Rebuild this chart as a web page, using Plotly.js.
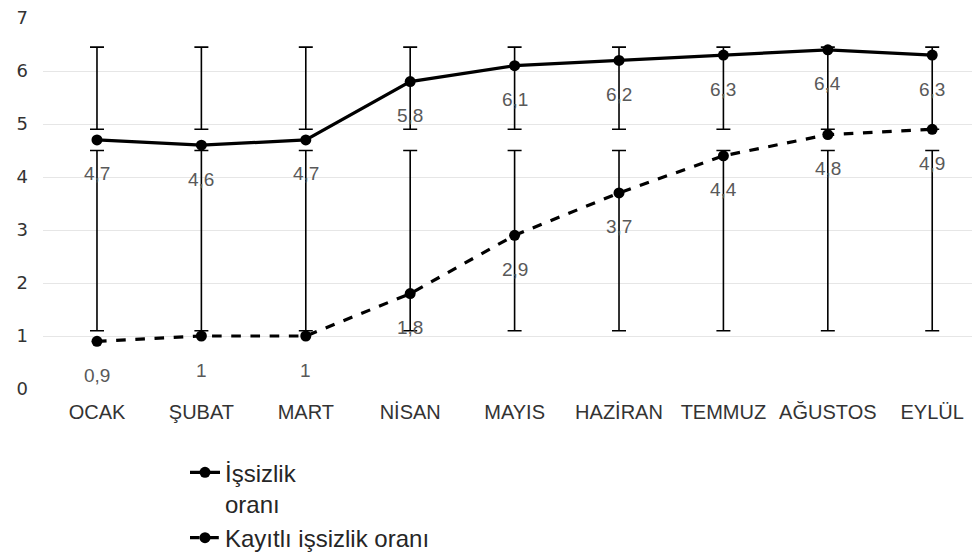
<!DOCTYPE html>
<html>
<head>
<meta charset="utf-8">
<script src="https://cdn.plot.ly/plotly-3.0.1.min.js"></script>
<style>html,body{margin:0;padding:0;background:#fff;}#chart{width:972px;height:555px;}</style>
</head>
<body>
<div id="chart"></div>
<script>
const months = ["OCAK", "ŞUBAT", "MART", "NİSAN", "MAYIS", "HAZİRAN", "TEMMUZ", "AĞUSTOS", "EYLÜL"];
const issizlik = [4.7, 4.6, 4.7, 5.8, 6.1, 6.2, 6.3, 6.4, 6.3];
const kayitli = [0.9, 1, 1, 1.8, 2.9, 3.7, 4.4, 4.8, 4.9];
const issizlikErrHigh = [6.45, 6.45, 6.45, 6.45, 6.45, 6.45, 6.45, 6.45, 6.45];
const issizlikErrLow = [4.9, 4.9, 4.9, 4.9, 4.9, 4.9, 4.9, 4.9, 4.9];
const kayitliErrHigh = [4.5, 4.5, 4.5, 4.5, 4.5, 4.5, 4.5, 4.5, 4.5];
const kayitliErrLow = [1.1, 1.1, 1.1, 1.1, 1.1, 1.1, 1.1, 1.1, 1.1];
const seriesNames = ["İşsizlik<br>oranı", "Kayıtlı işsizlik oranı"];
const yTicks = [0, 1, 2, 3, 4, 5, 6, 7];

function errBars(vals, hi, lo) {
  return {
    type: 'data', symmetric: false, visible: true,
    array: vals.map((v, i) => +(hi[i] - v).toFixed(3)),
    arrayminus: vals.map((v, i) => +(v - lo[i]).toFixed(3)),
    color: '#000', thickness: 1.6, width: 7
  };
}

const traces = [
  {
    x: months, y: issizlik, name: seriesNames[0], type: 'scatter', mode: 'lines+markers',
    line: {color: '#000', width: 3.2},
    marker: {color: '#000', size: 11},
    error_y: errBars(issizlik, issizlikErrHigh, issizlikErrLow),
    cliponaxis: false
  },
  {
    x: months, y: kayitli, name: seriesNames[1], type: 'scatter', mode: 'lines+markers',
    line: {color: '#000', width: 3.2, dash: 'dash'},
    marker: {color: '#000', size: 11},
    error_y: errBars(kayitli, kayitliErrHigh, kayitliErrLow),
    cliponaxis: false
  }
];

const fmt = v => String(v).replace('.', ',');
const labelFont = {family: 'Liberation Sans, Arial, sans-serif', size: 19, color: '#595959'};
const annotations = [];
[issizlik, kayitli].forEach(arr => {
  arr.forEach((v, i) => {
    annotations.push({
      x: months[i], y: v, xref: 'x', yref: 'y', text: fmt(v),
      showarrow: false, yshift: -34, font: labelFont
    });
  });
});

const layout = {
  width: 972, height: 555,
  margin: {l: 43, r: 0, t: 18, b: 166, autoexpand: false},
  paper_bgcolor: '#fff', plot_bgcolor: '#fff',
  showlegend: true,
  xaxis: {
    type: 'category', range: [-0.517, 8.381],
    showgrid: false, zeroline: false, showline: false, ticks: '',
    tickfont: {family: 'Liberation Sans, Arial, sans-serif', size: 20, color: '#333'},
    ticklabelstandoff: 9, fixedrange: true
  },
  yaxis: {
    range: [0, 7], tickvals: yTicks, ticktext: yTicks.map(String),
    showgrid: true, gridcolor: '#e6e6e6', gridwidth: 1,
    zeroline: false, showline: false, ticks: '',
    tickfont: {family: 'DejaVu Sans, sans-serif', size: 18, color: '#333'},
    ticklabelstandoff: 14, fixedrange: true
  },
  legend: {
    x: (185 - 43) / 929, xanchor: 'left', y: -0.165, yanchor: 'top',
    valign: 'top', orientation: 'v',
    font: {family: 'Liberation Sans, Arial, sans-serif', size: 24, color: '#262626'},
    bgcolor: 'rgba(0,0,0,0)', tracegroupgap: 0
  },
  annotations: annotations
};

Plotly.newPlot('chart', traces, layout, {displayModeBar: false, staticPlot: true});
</script>
</body>
</html>
